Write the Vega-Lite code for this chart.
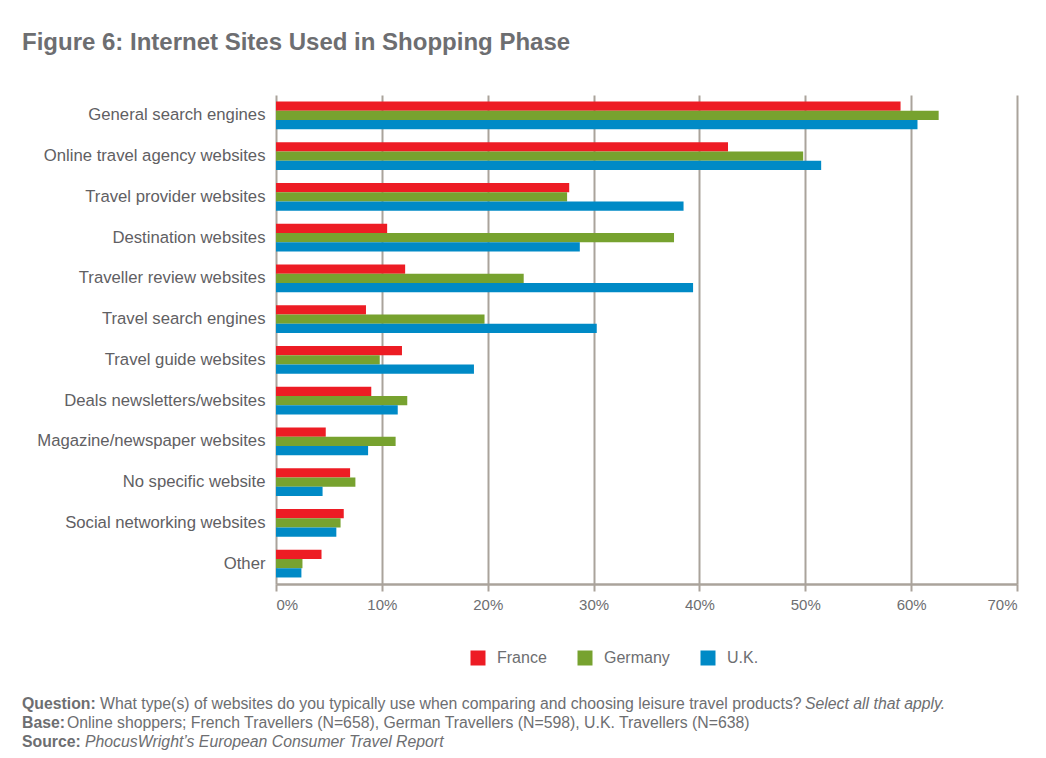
{
  "$schema": "https://vega.github.io/schema/vega-lite/v6.json",
  "background": "white",
  "padding": {"left": 22, "top": 31, "right": 5, "bottom": 5},
  "title": {
    "text": "Figure 6: Internet Sites Used in Shopping Phase",
    "anchor": "start",
    "frame": "bounds",
    "font": "Liberation Sans",
    "fontSize": 24,
    "fontWeight": "bold",
    "color": "#6d6e71",
    "baseline": "top",
    "offset": 40
  },
  "datasets": {
    "sites": [
      {"site": "General search engines", "country": "France", "value": 59.0},
      {"site": "General search engines", "country": "Germany", "value": 62.6},
      {"site": "General search engines", "country": "U.K.", "value": 60.6},
      {"site": "Online travel agency websites", "country": "France", "value": 42.7},
      {"site": "Online travel agency websites", "country": "Germany", "value": 49.8},
      {"site": "Online travel agency websites", "country": "U.K.", "value": 51.5},
      {"site": "Travel provider websites", "country": "France", "value": 27.7},
      {"site": "Travel provider websites", "country": "Germany", "value": 27.5},
      {"site": "Travel provider websites", "country": "U.K.", "value": 38.5},
      {"site": "Destination websites", "country": "France", "value": 10.5},
      {"site": "Destination websites", "country": "Germany", "value": 37.6},
      {"site": "Destination websites", "country": "U.K.", "value": 28.7},
      {"site": "Traveller review websites", "country": "France", "value": 12.2},
      {"site": "Traveller review websites", "country": "Germany", "value": 23.4},
      {"site": "Traveller review websites", "country": "U.K.", "value": 39.4},
      {"site": "Travel search engines", "country": "France", "value": 8.5},
      {"site": "Travel search engines", "country": "Germany", "value": 19.7},
      {"site": "Travel search engines", "country": "U.K.", "value": 30.3},
      {"site": "Travel guide websites", "country": "France", "value": 11.9},
      {"site": "Travel guide websites", "country": "Germany", "value": 9.8},
      {"site": "Travel guide websites", "country": "U.K.", "value": 18.7},
      {"site": "Deals newsletters/websites", "country": "France", "value": 9.0},
      {"site": "Deals newsletters/websites", "country": "Germany", "value": 12.4},
      {"site": "Deals newsletters/websites", "country": "U.K.", "value": 11.5},
      {"site": "Magazine/newspaper websites", "country": "France", "value": 4.7},
      {"site": "Magazine/newspaper websites", "country": "Germany", "value": 11.3},
      {"site": "Magazine/newspaper websites", "country": "U.K.", "value": 8.7},
      {"site": "No specific website", "country": "France", "value": 7.0},
      {"site": "No specific website", "country": "Germany", "value": 7.5},
      {"site": "No specific website", "country": "U.K.", "value": 4.4},
      {"site": "Social networking websites", "country": "France", "value": 6.4},
      {"site": "Social networking websites", "country": "Germany", "value": 6.1},
      {"site": "Social networking websites", "country": "U.K.", "value": 5.7},
      {"site": "Other", "country": "France", "value": 4.3},
      {"site": "Other", "country": "Germany", "value": 2.5},
      {"site": "Other", "country": "U.K.", "value": 2.4}
    ],
    "notes": [
      {"line": 1, "label": "Question:", "body": "What type(s) of websites do you typically use when comparing and choosing leisure travel products?", "italic": "Select all that apply."},
      {"line": 2, "label": "Base:", "body": "Online shoppers; French Travellers (N=658), German Travellers (N=598), U.K. Travellers (N=638)", "italic": ""},
      {"line": 3, "label": "Source:", "body": "", "italic": "PhocusWright’s European Consumer Travel Report"}
    ]
  },
  "spacing": 83,
  "vconcat": [
    {
      "width": 741,
      "height": 489,
      "data": {"name": "sites"},
      "mark": {"type": "bar"},
      "encoding": {
        "y": {
          "field": "site",
          "type": "nominal",
          "sort": ["General search engines", "Online travel agency websites", "Travel provider websites", "Destination websites", "Traveller review websites", "Travel search engines", "Travel guide websites", "Deals newsletters/websites", "Magazine/newspaper websites", "No specific website", "Social networking websites", "Other"],
          "scale": {"paddingInner": 0.32, "paddingOuter": 0.16},
          "axis": {
            "title": null,
            "domain": false,
            "ticks": false,
            "grid": false,
            "labelFont": "Liberation Sans",
            "labelFontSize": 16.7,
            "labelColor": "#5f6063",
            "labelPadding": 11,
            "labelLimit": 400,
            "minExtent": 254
          }
        },
        "yOffset": {"field": "country", "type": "nominal", "sort": ["France", "Germany", "U.K."]},
        "x": {
          "field": "value",
          "type": "quantitative",
          "scale": {"domain": [0, 70]},
          "axis": {
            "title": null,
            "values": [0, 10, 20, 30, 40, 50, 60, 70],
            "labelExpr": "datum.value + '%'",
            "grid": true,
            "gridColor": "#aaa39b",
            "gridWidth": 2,
            "domainColor": "#aaa39b",
            "domainWidth": 2.5,
            "tickColor": "#aaa39b",
            "tickWidth": 2,
            "tickSize": 7,
            "labelFont": "Liberation Sans",
            "labelFontSize": 15,
            "labelColor": "#6d6e71",
            "labelPadding": 6
          }
        },
        "color": {
          "field": "country",
          "type": "nominal",
          "scale": {"domain": ["France", "Germany", "U.K."], "range": ["#ed1c24", "#77a22f", "#008ac6"]},
          "legend": {
            "title": null,
            "orient": "none",
            "direction": "horizontal",
            "legendX": 194,
            "legendY": 555,
            "symbolType": "square",
            "symbolSize": 225,
            "symbolStrokeWidth": 0,
            "labelFont": "Liberation Sans",
            "labelFontSize": 16,
            "labelColor": "#6d6e71",
            "labelOffset": 11,
            "columnPadding": 30
          }
        }
      }
    },
    {
      "width": 700,
      "height": 56,
      "data": {"name": "notes"},
      "encoding": {
        "y": {"field": "line", "type": "ordinal", "axis": null}
      },
      "layer": [
        {
          "mark": {"type": "text", "align": "left", "x": 0, "dx": -254, "font": "Liberation Sans", "fontSize": 15.8, "fontWeight": "bold", "color": "#6d6e71"},
          "encoding": {"text": {"field": "label"}}
        },
        {
          "transform": [{"filter": "datum.line == 1"}],
          "mark": {"type": "text", "align": "left", "x": 0, "dx": -176, "font": "Liberation Sans", "fontSize": 15.8, "color": "#6d6e71"},
          "encoding": {"text": {"field": "body"}}
        },
        {
          "transform": [{"filter": "datum.line == 1"}],
          "mark": {"type": "text", "align": "left", "x": 0, "dx": 529, "font": "Liberation Sans", "fontSize": 15.8, "fontStyle": "italic", "color": "#6d6e71"},
          "encoding": {"text": {"field": "italic"}}
        },
        {
          "transform": [{"filter": "datum.line == 2"}],
          "mark": {"type": "text", "align": "left", "x": 0, "dx": -209, "font": "Liberation Sans", "fontSize": 15.8, "color": "#6d6e71"},
          "encoding": {"text": {"field": "body"}}
        },
        {
          "transform": [{"filter": "datum.line == 3"}],
          "mark": {"type": "text", "align": "left", "x": 0, "dx": -191, "font": "Liberation Sans", "fontSize": 15.8, "fontStyle": "italic", "color": "#6d6e71"},
          "encoding": {"text": {"field": "italic"}}
        }
      ]
    }
  ],
  "config": {
    "view": {"stroke": null},
    "bar": {"stroke": null}
  }
}
